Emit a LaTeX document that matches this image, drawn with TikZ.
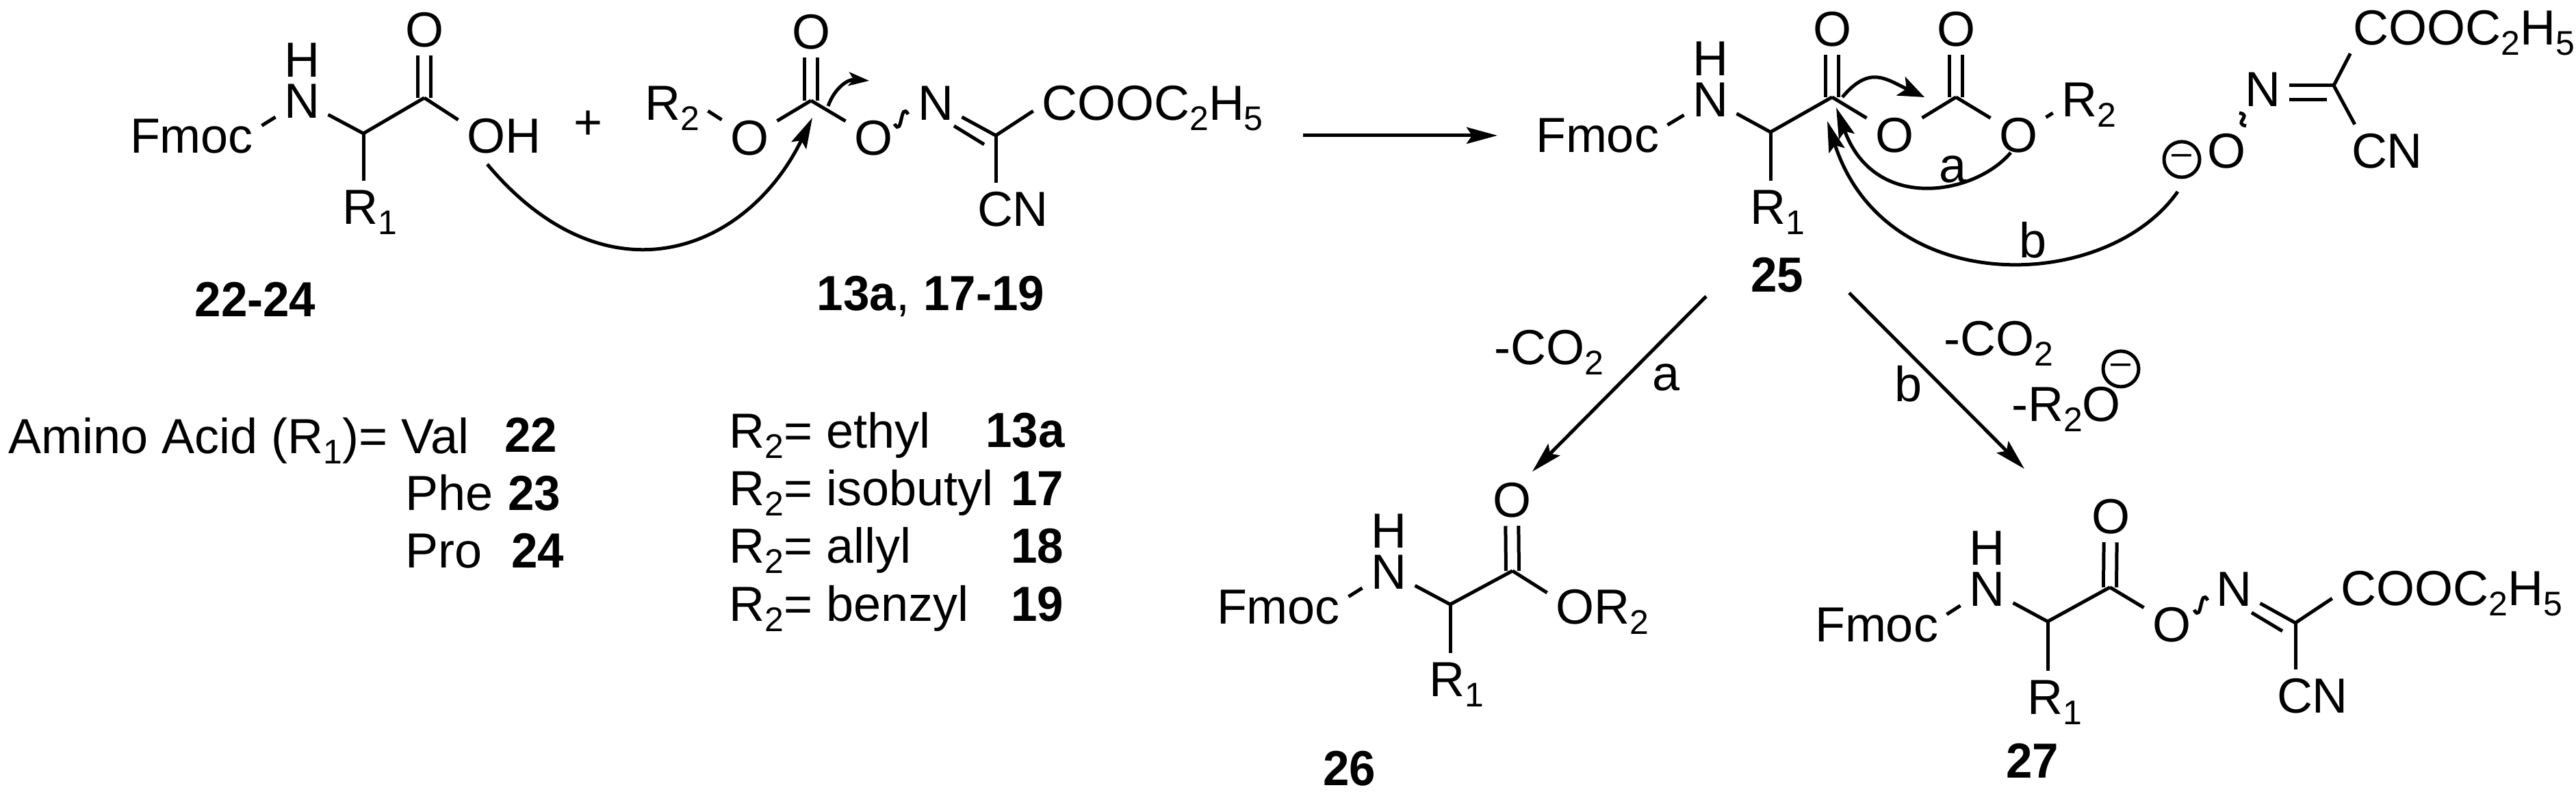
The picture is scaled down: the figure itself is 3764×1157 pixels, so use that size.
\documentclass[tikz,border=0pt]{standalone}
\usepackage{fontspec}
\setmainfont[BoldFeatures={FakeStretch=0.96}]{Liberation Sans}
\usepackage{tikz}
\usetikzlibrary{arrows.meta}
\newcommand{\sbs}[1]{\raisebox{-1.5pt}{\fontsize{5}{6}\selectfont #1}}

\begin{document}
\begin{tikzpicture}[x=0.1pt,y=0.1pt,>={Stealth[length=4.5pt,width=2.4pt,inset=.8pt]},line width=.5pt,
  node distance=6pt,every node/.style={font=\fontsize{7.2}{8.6}\selectfont},
  atom/.style={inner sep=1pt,text height=5.15pt,text depth=0pt},
  txt/.style={anchor=base west,inner sep=0pt},
  mark label/.style={anchor=base,inner sep=0pt},
  dbl/.style={double,double distance=1.4pt},
  small head/.style={-{Stealth[length=3pt,width=2pt,inset=.7pt]}},
  wide head/.style={-{Stealth[length=3.8pt,width=3pt,inset=.9pt]}},
  wavy bond/.style={out=-60,in=120,distance=2.4pt},
  minus sign/.style={circle,draw,inner sep=0pt,minimum size=5.2pt,font=\fontsize{5.2}{6}\selectfont}]

  \useasboundingbox (0,0) rectangle (3764,-1157);

  \node[atom] (f22) at (280,-198) {Fmoc};
  \node[atom] (n22) at (441,-147) {N};
  \node[atom] (h22) [above of=n22] {H};
  \coordinate (c22) at (531,-195);
  \node[atom] (r22) at (540,-302) {R\sbs{1}};
  \coordinate (d22) at (620,-143);
  \node[atom] (o22) at (620,-43) {O};
  \node[atom] (oh22) at (736,-198) {OH};
  \node[atom] (l22) at (373,-437) {\textbf{22-24}};
  \node[atom] (plus) at (860,-178) {+};
  \coordinate (a22) at (712,-240);

  \node[atom] (r13) at (982,-150) {R\sbs{2}};
  \node[atom] (o13) at (1095,-201) {O};
  \coordinate (c13) at (1185,-147);
  \node[atom] (p13) at (1185,-46) {O};
  \node[atom] (q13) at (1276,-201) {O};
  \coordinate (w13) at (1307,-181);
  \coordinate (v13) at (1327,-167);
  \node[atom] (n13) at (1367,-150) {N};
  \coordinate (k13) at (1455,-198);
  \coordinate (i13) at (1394,-184);
  \coordinate (j13) at (1438,-211);
  \node[atom] (e13) at (1684,-150) {COOC\sbs{2}H\sbs{5}};
  \node[atom] (y13) at (1480,-305) {CN};
  \node[atom] (l13) at (1360,-428) {\textbf{13a}, \textbf{17-19}};
  \coordinate (a13) at (1187,-172);
  \coordinate (s13) at (1210,-155);
  \coordinate (t13) at (1270,-118);

  \node[txt] at (10,-663) (l1) {Amino Acid (R\sbs{1})= Val};
  \node[txt] at (735,-661) (l2) {\textbf{22}};
  \node[txt] at (590,-746) (l3) {Phe};
  \node[txt] at (740,-746) (l4) {\textbf{23}};
  \node[txt] at (590,-830) (l5) {Pro};
  \node[txt] at (745,-830) (l6) {\textbf{24}};
  \node[txt] at (1063,-655) (l7) {R\sbs{2}= ethyl};
  \node[txt] at (1438,-654) (l8) {\textbf{13a}};
  \node[txt] at (1063,-739) (l9) {R\sbs{2}= isobutyl};
  \node[txt] at (1475,-739) (l10) {\textbf{17}};
  \node[txt] at (1063,-823) (l11) {R\sbs{2}= allyl};
  \node[txt] at (1475,-823) (l12) {\textbf{18}};
  \node[txt] at (1063,-908) (l14) {R\sbs{2}= benzyl};
  \node[txt] at (1475,-908) (l15) {\textbf{19}};

  \coordinate (m1) at (1904,-198);
  \coordinate (m2) at (2188,-198);

  \node[atom] (f25) at (2334,-197) {Fmoc};
  \node[atom] (n25) at (2499,-145) {N};
  \node[atom] (h25) [above of=n25] {H};
  \coordinate (c25) at (2587,-193);
  \node[atom] (r25) at (2597,-302) {R\sbs{1}};
  \coordinate (d25) at (2677,-142);
  \node[atom] (o25) at (2677,-42) {O};
  \node[atom] (p25) at (2768,-197) {O};
  \coordinate (e25) at (2858,-142);
  \node[atom] (g25) at (2858,-42) {O};
  \node[atom] (q25) at (2949,-197) {O};
  \node[atom] (s25) at (3052,-145) {R\sbs{2}};
  \node[atom] (l25) at (2597,-401) {\textbf{25}};
  \coordinate (a25) at (2692,-142);
  \coordinate (b25) at (2812,-142);
  \coordinate (u25) at (2938,-223);
  \coordinate (v25) at (2683,-157);
  \coordinate (x25) at (3182,-280);
  \coordinate (z25) at (2670,-177);
  \node[mark label] (la) at (2854,-267) {a};
  \node[mark label] (lb) at (2971,-377) {b};

  \node[minus sign] (m3) at (3188,-233) {–};
  \node[atom] (o3) at (3253,-220) {O};
  \coordinate (w3) at (3272,-165);
  \coordinate (v3) at (3282,-184);
  \node[atom] (n3) at (3306,-130) {N};
  \coordinate (k3) at (3410,-125);
  \coordinate (j3) at (3400,-146);
  \node[atom] (e3) at (3600,-40) {COOC\sbs{2}H\sbs{5}};
  \node[atom] (y3) at (3488,-220) {CN};

  \coordinate (a1) at (2493,-433);
  \coordinate (a2) at (2239,-689);
  \node[atom] (co1) at (2263,-507) {-CO\sbs{2}};
  \node[mark label] (lc) at (2435,-571) {a};
  \coordinate (b1) at (2702,-428);
  \coordinate (b2) at (2958,-685);
  \node[atom] (co2) at (2920,-494) {-CO\sbs{2}};
  \node[mark label] (ld) at (2789,-587) {b};
  \node[atom] (ro) at (3019,-590) {-R\sbs{2}O};
  \node[minus sign] (m4) at (3099,-539) {–};

  \node[atom] (f26) at (1868,-886) {Fmoc};
  \node[atom] (n26) at (2029,-835) {N};
  \node[atom] (h26) [above of=n26] {H};
  \coordinate (c26) at (2119,-883);
  \node[atom] (r26) at (2128,-992) {R\sbs{1}};
  \coordinate (d26) at (2210,-834);
  \node[atom] (o26) at (2209,-730) {O};
  \node[atom] (q26) at (2341,-886) {OR\sbs{2}};
  \node[atom] (l26) at (1972,-1122) {\textbf{26}};

  \node[atom] (f27) at (2742,-912) {Fmoc};
  \node[atom] (n27) at (2903,-860) {N};
  \node[atom] (h27) [above of=n27] {H};
  \coordinate (c27) at (2992,-908);
  \node[atom] (r27) at (3002,-1018) {R\sbs{1}};
  \coordinate (d27) at (3083,-858);
  \node[atom] (o27) at (3084,-754) {O};
  \node[atom] (q27) at (3173,-912) {O};
  \coordinate (w27) at (3206,-891);
  \coordinate (v27) at (3226,-877);
  \node[atom] (m27) at (3264,-860) {N};
  \coordinate (k27) at (3354,-910);
  \coordinate (i27) at (3290,-895);
  \coordinate (j27) at (3335,-922);
  \node[atom] (e27) at (3582,-859) {COOC\sbs{2}H\sbs{5}};
  \node[atom] (y27) at (3379,-1016) {CN};
  \node[atom] (l27) at (2970,-1111) {\textbf{27}};

  \path
    (o22) edge [dbl] (d22)
    (f22.8) edge (n22)
    (n22) edge (c22)
    (c22) edge (c22 |- r22.north)
    (c22) edge (d22)
    (d22) edge (oh22.161)

    (p13) edge [dbl] (c13)
    (r13.-13) edge (o13)
    (o13) edge (c13)
    (c13) edge (q13)
    (w13) edge [wavy bond] (v13)
    (n13) edge (k13)
    (i13) edge (j13)
    (k13) edge (e13.184)
    (k13) edge (k13 |- y13.north)

    (o25) edge [dbl] (d25)
    (g25) edge [dbl] (e25)
    (f25.8) edge (n25)
    (n25) edge (c25)
    (c25) edge (c25 |- r25.north)
    (c25) edge (d25)
    (d25) edge (p25)
    (p25) edge (e25)
    (e25) edge (q25)
    (q25) edge (s25.201)

    (w3) edge [out=-10,in=170,distance=2pt] (v3)
    (n3.east |- k3) edge (k3)
    (n3.east |- j3) edge (j3)
    (k3) edge (e3.193)
    (k3) edge (y3.141)

    (o26) edge [dbl] (d26)
    (f26.8) edge (n26)
    (n26) edge (c26)
    (c26) edge (c26 |- r26.north)
    (c26) edge (d26)
    (d26) edge (q26.166)

    (o27) edge [dbl] (d27)
    (f27.8) edge (n27)
    (n27) edge (c27)
    (c27) edge (c27 |- r27.north)
    (c27) edge (d27)
    (d27) edge (q27)
    (w27) edge [wavy bond] (v27)
    (m27) edge (k27)
    (i27) edge (j27)
    (k27) edge (e27.185)
    (k27) edge (k27 |- y27.north);

  \path[->]
    (a22) edge [out=-50,in=244,out distance=27pt,in distance=22pt] (a13)
    (s13) edge [small head,out=70,in=175,distance=3pt] (t13)
    (m1) edge (m2)
    (a25) edge [wide head,out=50,in=155,distance=6.2pt] (b25)
    (u25) edge [out=-130,in=-70,out distance=8pt,in distance=16.5pt] (v25)
    (x25) edge [out=-125,in=-72,out distance=18pt,in distance=27.5pt] (z25)
    (a1) edge (a2)
    (b1) edge (b2);

\end{tikzpicture}
\end{document}
